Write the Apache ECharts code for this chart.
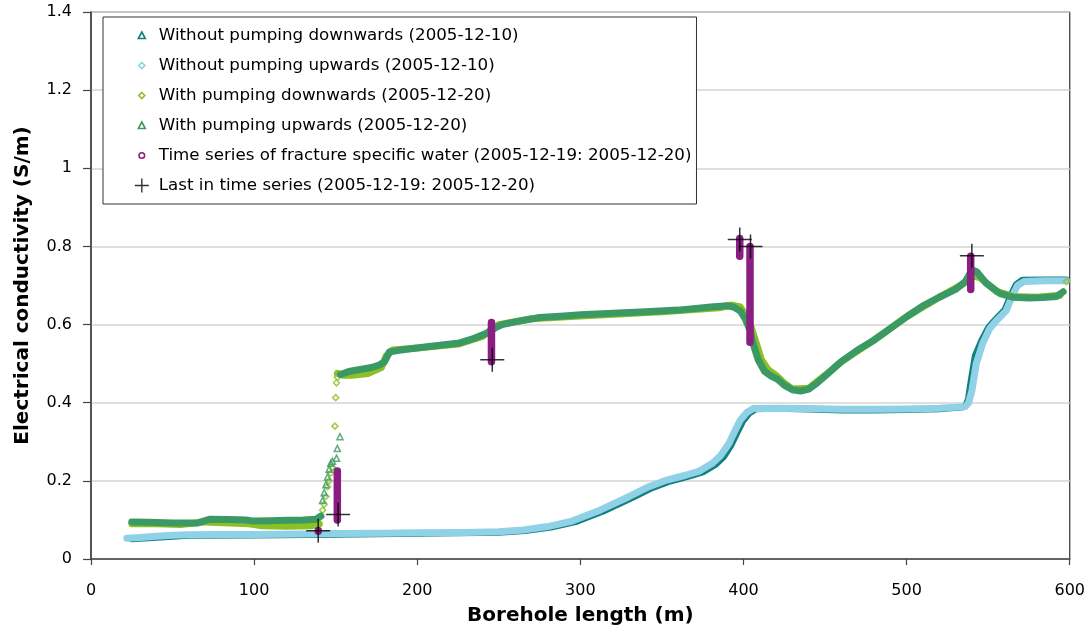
<!DOCTYPE html>
<html>
<head>
<meta charset="utf-8">
<script src="https://cdn.jsdelivr.net/npm/echarts@6/dist/echarts.min.js"></script>
<style>html,body{margin:0;padding:0;background:#fff}#c{width:1088px;height:636px}</style>
</head>
<body>
<div id="c"></div>
<script>
// ---- data (borehole length m, conductivity S/m) ----
const xTicks = [0, 100, 200, 300, 400, 500, 600];
const yTicks = [0, 0.2, 0.4, 0.6, 0.8, 1, 1.2, 1.4];

const seriesNames = [
  'Without pumping downwards (2005-12-10)',
  'Without pumping upwards (2005-12-10)',
  'With pumping downwards (2005-12-20)',
  'With pumping upwards (2005-12-20)',
  'Time series of fracture specific water (2005-12-19: 2005-12-20)',
  'Last in time series (2005-12-19: 2005-12-20)'
];

const noPumpDown = [[25,0.051],[60,0.06],[100,0.061],[150,0.063],[200,0.065],[250,0.068],[266,0.072],[282,0.081],[297,0.095],[314,0.122],[332,0.157],[344,0.182],[355,0.199],[367,0.212],[375,0.222],[383,0.242],[388,0.262],[392.5,0.292],[396.5,0.327],[399.5,0.352],[403.5,0.373],[407.5,0.384],[420,0.385],[440,0.383],[460,0.381],[480,0.381],[500,0.382],[520,0.384],[535,0.389],[536.5,0.395],[537.8,0.41],[539.6,0.46],[542,0.52],[546,0.56],[550.2,0.593],[554.2,0.612],[560.2,0.638],[564.2,0.678],[567.2,0.703],[571,0.714],[585,0.715],[598,0.715]];

const noPumpUp = [[22,0.053],[30,0.055],[40,0.058],[50,0.061],[60,0.062],[80,0.063],[100,0.063],[130,0.064],[150,0.065],[180,0.066],[200,0.067],[230,0.068],[250,0.07],[265,0.074],[280,0.083],[295,0.097],[312,0.125],[330,0.16],[342,0.185],[353,0.202],[365,0.215],[373,0.225],[381,0.245],[386,0.265],[391,0.295],[395,0.33],[398,0.355],[402,0.375],[406,0.385],[420,0.386],[440,0.385],[460,0.383],[480,0.383],[500,0.384],[520,0.386],[536,0.39],[538,0.4],[540,0.43],[542.7,0.5],[546.7,0.553],[551,0.59],[555,0.61],[561,0.635],[565,0.675],[568,0.7],[572,0.71],[585,0.712],[598,0.712]];

const pumpDownLow = [[25,0.09],[40,0.09],[55,0.088],[70,0.095],[85,0.092],[97,0.09],[100,0.088],[105,0.085],[120,0.084],[135,0.085],[140,0.09]];
const pumpDownJump = [[142,0.125],[143,0.14],[144,0.16],[145,0.185],[146,0.2],[147,0.22],[148,0.235],[149.5,0.34],[150,0.413],[150.5,0.451],[151,0.465],[598,0.71]];
const pumpDownHigh = [[151,0.475],[155,0.47],[160,0.47],[170,0.475],[178,0.49],[181,0.52],[185,0.535],[200,0.54],[225,0.55],[240,0.57],[245,0.585],[250,0.6],[270,0.615],[300,0.622],[350,0.633],[385,0.643],[393,0.65],[398,0.645],[402,0.62],[405,0.59],[408,0.55],[411,0.51],[415,0.485],[420,0.47],[425,0.45],[430,0.435],[440,0.437],[450,0.47],[460,0.505],[480,0.56],[500,0.62],[520,0.67],[535,0.705],[540,0.725],[545,0.72],[555,0.685],[565,0.672],[580,0.67],[594,0.675]];

const pumpUpLow = [[25,0.095],[35,0.094],[50,0.092],[65,0.092],[73,0.102],[85,0.101],[95,0.1],[100,0.097],[110,0.098],[120,0.099],[130,0.1],[138,0.102],[141,0.11]];
const pumpUpJump = [[142,0.15],[143,0.17],[144,0.19],[145,0.21],[146,0.23],[147,0.245],[148,0.25],[150.5,0.258],[151,0.283],[152.6,0.313]];
const pumpUpHigh = [[153,0.472],[158,0.48],[165,0.485],[172,0.49],[177,0.497],[180,0.505],[183,0.53],[190,0.535],[196,0.538],[210,0.545],[226,0.553],[235,0.565],[242.5,0.578],[248,0.592],[252,0.6],[260,0.607],[275,0.618],[290,0.622],[300,0.625],[320,0.629],[340,0.633],[360,0.637],[380,0.645],[390,0.648],[394,0.645],[398,0.635],[401,0.615],[404,0.585],[406,0.55],[409,0.51],[413,0.48],[417,0.468],[421,0.46],[425,0.445],[430,0.433],[435,0.43],[440,0.435],[445,0.45],[450,0.468],[460,0.505],[470,0.535],[480,0.56],[490,0.59],[500,0.62],[510,0.648],[520,0.67],[530,0.69],[536,0.71],[540,0.74],[543,0.735],[548.8,0.706],[557,0.68],[565,0.67],[575,0.668],[583.5,0.669],[592,0.672],[596,0.684]];

// fracture time series: [length, min, max]
const fractureSeries = [[139.3,0.071,0.073],[151,0.10,0.225],[245.5,0.505,0.605],[397.7,0.775,0.82],[404,0.555,0.80],[539.3,0.69,0.775]];
// last value in each time series
const lastInSeries = [[139.3,0.072],[151.5,0.114],[246,0.51],[397.7,0.818],[404.3,0.80],[540,0.776]];

// ---- build ----
const C = {
  teal: '#12807f', lblue: '#8fd1e6', lgreen: '#8dc026', green: '#3b9a63', purple: '#8b1e82', black: '#000'
};
const FONT = 'DejaVu Sans';
function withBreaks(parts){ const out=[]; parts.forEach((p,i)=>{ if(i) out.push([null,null]); out.push(...p); }); return out; }
const fracData = withBreaks(fractureSeries.map(r => [[r[0], r[1]], [r[0], r[2]]]));

const band = (name, data, color, z, w) => ({
  name, type: 'line', data, showSymbol: false, symbol: 'none', smooth: false,
  lineStyle: { color, width: w || 7, cap: 'round', join: 'round' }, itemStyle: { color },
  z, silent: true, animation: false
});
const sparse = (name, data, color, symbol, z) => ({
  name, type: 'scatter', data, symbol, symbolSize: 6,
  itemStyle: { color: 'rgba(0,0,0,0)', borderColor: color, borderWidth: 1.6 }, z, animation: false
});

const triPath = 'path://M0,0 M14,14 M7,3.5 L10.5,10 L3.5,10 Z';
const diaPath = 'path://M0,0 M14,14 M7,4 L10,7 L7,10 L4,7 Z';
const cirPath = 'path://M0,0 M14,14 M9.8,7 A2.8,2.8 0 1 1 4.2,7 A2.8,2.8 0 1 1 9.8,7 Z';
const crossPath = 'path://M0,7 L14,7 M7,0 L7,14';

const legendIcons = [triPath, diaPath, diaPath, triPath, cirPath, crossPath];
const legendColors = [C.teal, C.lblue, C.lgreen, C.green, C.purple, C.black];

const option = {
  animation: false,
  backgroundColor: '#fff',
  textStyle: { fontFamily: FONT },
  grid: { left: 91, right: 17, top: 12, bottom: 77, show: true, borderColor: '#333', borderWidth: 1.2, backgroundColor: 'transparent' },
  legend: {
    orient: 'vertical', left: 103, top: 17,
    padding: [10, 5, 10, 31],
    itemGap: 13, itemWidth: 24, itemHeight: 14,
    backgroundColor: '#fff', borderColor: '#333', borderWidth: 1,
    textStyle: { fontFamily: FONT, fontSize: 16.7, color: '#000' },
    selectedMode: false,
    data: seriesNames.map((n, i) => ({
      name: n, icon: legendIcons[i],
      itemStyle: { color: 'rgba(0,0,0,0)', borderColor: legendColors[i], borderWidth: i === 5 ? 1.4 : 1.6 }
    }))
  },
  xAxis: {
    type: 'value', min: xTicks[0], max: xTicks[xTicks.length - 1], interval: 100,
    name: 'Borehole length (m)', nameLocation: 'middle', nameGap: 47,
    nameTextStyle: { fontFamily: FONT, fontSize: 20, fontWeight: 'bold', color: '#000' },
    axisLine: { show: true, onZero: false, lineStyle: { color: '#444', width: 1.5 } },
    axisTick: { show: true, inside: false, length: 6, lineStyle: { color: '#444', width: 1.2 } },
    axisLabel: { margin: 24, fontFamily: FONT, fontSize: 16, color: '#000' },
    splitLine: { show: false }
  },
  yAxis: {
    type: 'value', min: yTicks[0], max: yTicks[yTicks.length - 1], interval: 0.2,
    name: 'Electrical conductivity (S/m)', nameLocation: 'middle', nameGap: 58, nameRotate: 90,
    nameTextStyle: { fontFamily: FONT, fontSize: 20, fontWeight: 'bold', color: '#000' },
    axisLine: { show: true, onZero: false, lineStyle: { color: '#444', width: 1.5 } },
    axisTick: { show: true, inside: false, length: 8, lineStyle: { color: '#444', width: 1.2 } },
    axisLabel: { margin: 19, fontFamily: FONT, fontSize: 16, color: '#000',
      formatter: v => (Math.round(v * 10) / 10).toString() },
    splitLine: { show: true, lineStyle: { color: '#d4d4d4', width: 1.5 } }
  },
  series: [
    band(seriesNames[0], noPumpDown, C.teal, 2, 6.5),
    band(seriesNames[1], noPumpUp, C.lblue, 3, 7),
    band(seriesNames[2], withBreaks([pumpDownLow, pumpDownHigh]), C.lgreen, 4, 7),
    sparse(seriesNames[2], pumpDownJump, C.lgreen, 'diamond', 4),
    band(seriesNames[3], withBreaks([pumpUpLow, pumpUpHigh]), C.green, 5, 7),
    sparse(seriesNames[3], pumpUpJump, C.green, 'triangle', 5),
    {
      name: seriesNames[4], type: 'line', data: fracData, connectNulls: false,
      showSymbol: false, symbol: 'none',
      lineStyle: { color: C.purple, width: 7.5, cap: 'round' }, itemStyle: { color: C.purple },
      z: 6, animation: false
    },
    {
      name: seriesNames[5], type: 'scatter', data: lastInSeries,
      symbol: 'path://M0,12 L24,12 M12,0 L12,24', symbolSize: 24,
      itemStyle: { color: 'rgba(0,0,0,0)', borderColor: '#000', borderWidth: 1.5 },
      z: 7, animation: false
    }
  ]
};

const chart = echarts.init(document.getElementById('c'), null, { renderer: 'canvas' });
chart.setOption(option);
</script>
</body>
</html>
